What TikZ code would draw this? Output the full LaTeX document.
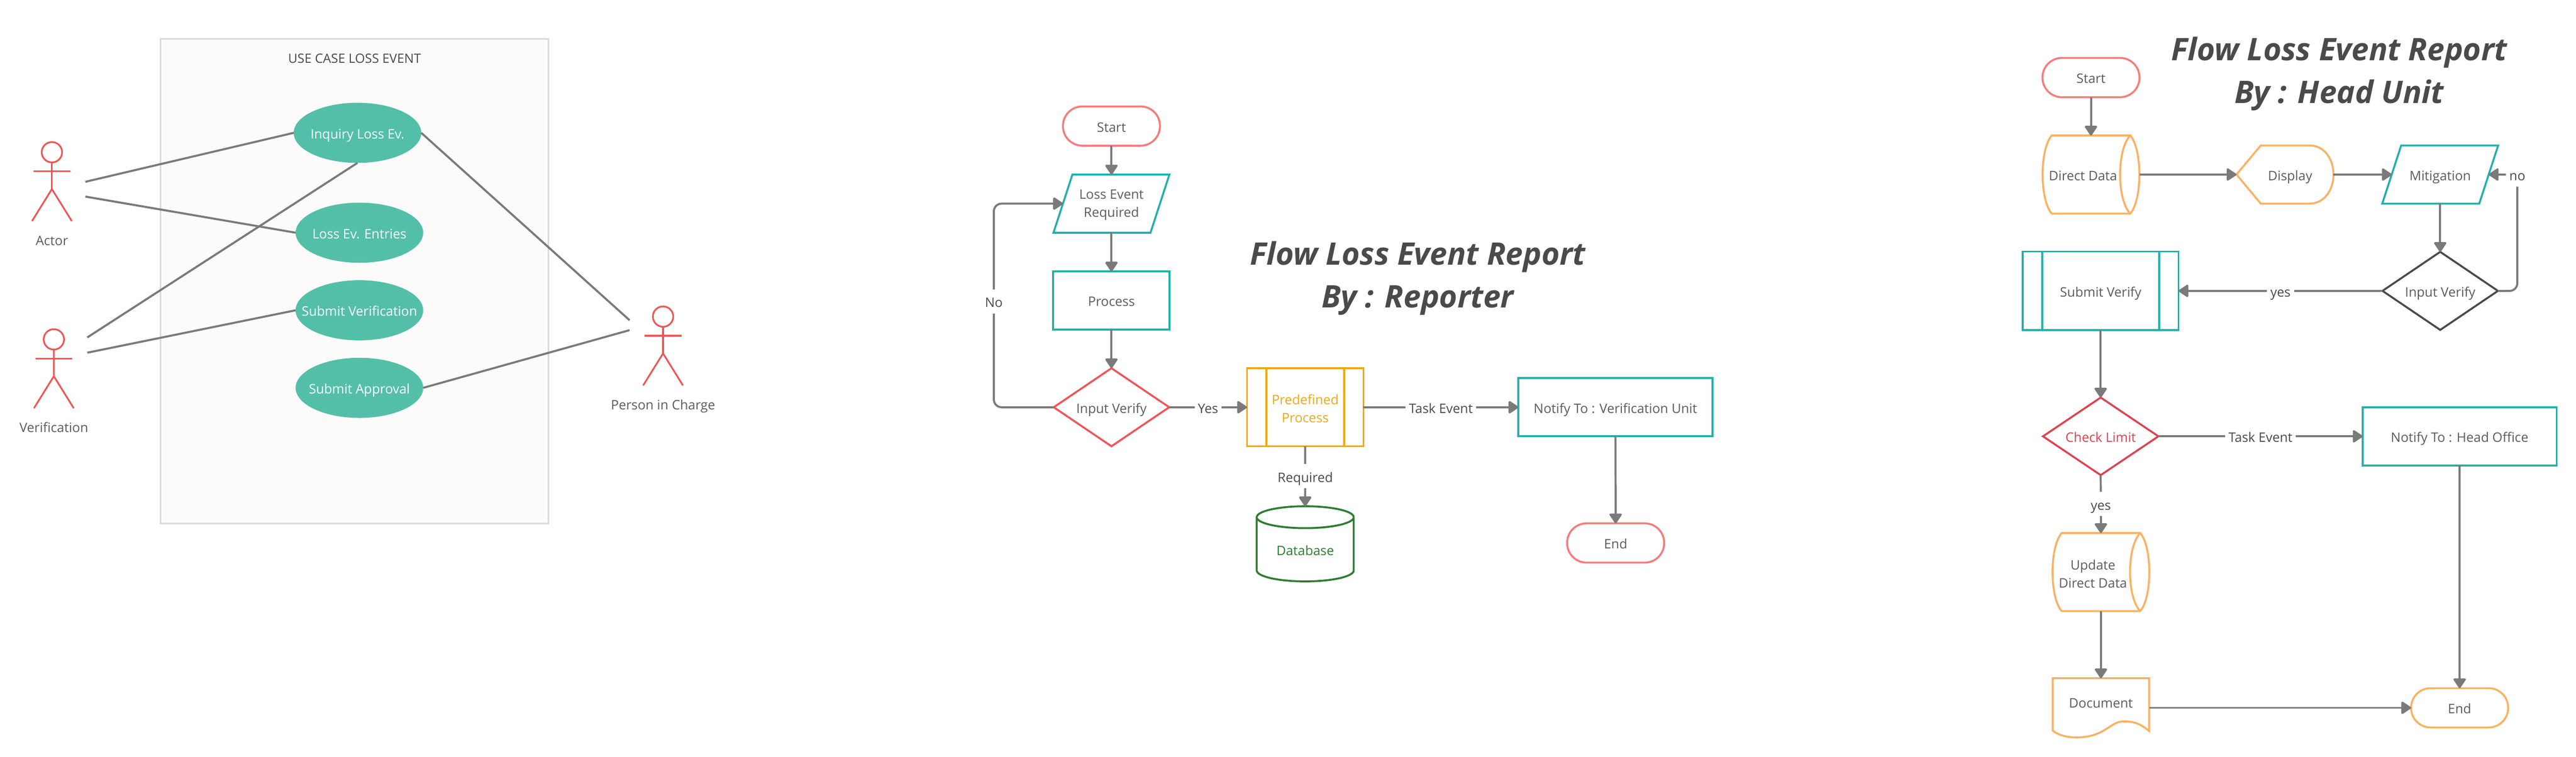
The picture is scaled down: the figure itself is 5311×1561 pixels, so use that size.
\documentclass[tikz,border=0pt]{standalone}
\usepackage{fontspec}
\setmainfont{Open Sans}
\usetikzlibrary{positioning,arrows.meta,shapes.geometric}
\definecolor{boxgrey}{HTML}{D9D9D9}
\definecolor{boxfill}{HTML}{FCFBF9}
\definecolor{usecasefill}{HTML}{53BFA9}
\definecolor{actorred}{HTML}{EF5656}
\definecolor{linegrey}{HTML}{7A7A7A}
\definecolor{textgrey}{HTML}{5C5C5C}
\definecolor{labelgrey}{HTML}{4A4A4A}
\definecolor{salmon}{HTML}{F67C7C}
\definecolor{tealline}{HTML}{26AFA9}
\definecolor{amberline}{HTML}{EDA91C}
\definecolor{softorange}{HTML}{F9B264}
\definecolor{dbgreen}{HTML}{2E7D32}
\definecolor{crimson}{HTML}{DC4453}
\newcommand{\nw}[1]{\makebox[0pt]{#1}}
\tikzset{every node/.style={inner sep=0pt,outer sep=0pt,text=textgrey,font=\fontsize{13.5}{18.5}\selectfont,text height=14.5pt,text depth=2.5pt},
	twoline/.style={align=center,text height=,text depth=},
	shapeline/.style={line width=2pt,fill=white},
	usecase/.style={ellipse,fill=usecasefill,text=white,minimum width=131.5pt,minimum height=62pt},
	actorhead/.style={circle,draw=actorred,line width=1.75pt,minimum size=21pt,text height=0pt,text depth=0pt},
	actorline/.style={draw=actorred,line width=1.75pt},
	assoc/.style={draw=linegrey,line width=2.1pt},
	flow/.style={draw=linegrey,line width=2.1pt,-{Triangle[length=11pt,width=14pt,round]}},
	plainflow/.style={draw=linegrey,line width=2.1pt},
	edgelabel/.style={fill=white,inner xsep=3.5pt,inner ysep=4pt,text=labelgrey},
	terminal/.style={shapeline,rectangle,rounded corners=20pt,minimum width=100pt,minimum height=40.5pt},
	inout/.style={rectangle,minimum width=100pt,minimum height=60pt},
	procbox/.style={shapeline,draw=tealline,rectangle,minimum width=120pt,minimum height=60pt},
	decision/.style={shapeline,diamond,minimum width=119pt,minimum height=80.5pt},
	storebox/.style={rectangle,minimum width=100pt,minimum height=80.5pt},
	title/.style={twoline,font=\fontsize{32}{44}\selectfont\bfseries\itshape,text=labelgrey}}
\newcommand{\drawstore}[1]{%
\draw[shapeline,draw=softorange] ([xshift=9.5pt]#1.north west) -- ([xshift=-9.5pt]#1.north east)
	.. controls ([xshift=3pt,yshift=26pt]#1.east) and ([xshift=3pt,yshift=-26pt]#1.east) .. ([xshift=-9.5pt]#1.south east)
	-- ([xshift=9.5pt]#1.south west)
	.. controls ([xshift=-3pt,yshift=-26pt]#1.west) and ([xshift=-3pt,yshift=26pt]#1.west) .. cycle;
\draw[line width=2pt,draw=softorange] ([xshift=-9.5pt]#1.north east)
	.. controls ([xshift=-23.5pt,yshift=26pt]#1.east) and ([xshift=-23.5pt,yshift=-26pt]#1.east) .. ([xshift=-9.5pt]#1.south east);
}
\newcommand{\drawslant}[1]{%
\draw[line width=2pt,draw=tealline] ([xshift=9.75pt]#1.north west) -- ([xshift=9.75pt]#1.north east)
	-- ([xshift=-9.75pt]#1.south east) -- ([xshift=-9.75pt]#1.south west) -- cycle;
}
\begin{document}
\begin{tikzpicture}[x=0.5pt,y=-0.5pt]
\useasboundingbox (0,0) rectangle (5311,1561);
%
% use case
\draw[draw=boxgrey,fill=boxfill,line width=1.75pt] (331,80) rectangle (1131,1080);
\node[text=labelgrey] (ucTitle) at (731,118) {\fontsize{13.2}{16}\selectfont USE CASE LOSS EVENT};
\node[usecase] (inquiry) at (737,274) {\nw{Inquiry Loss Ev.}};
\node[usecase] (entries) at (741,480) {\nw{Loss Ev. Entries}};
\node[usecase] (submitVerif) at (741,640) {\nw{Submit Verification}};
\node[usecase] (submitAppr) at (741,800) {\nw{Submit Approval}};
%
\foreach \Name/\X/\Y/\Label in {%
	actor/107/314/Actor,
	verification/111/700/Verification,
	person/1367/653/Person in Charge%
    }
{
\node[actorhead] (\Name) at (\X,\Y) {};
\draw[actorline] (\Name.south) -- ++(0,55) coordinate (\Name Hip);
\draw[actorline] ([xshift=-19pt,yshift=-19.75pt]\Name.center) -- ([xshift=19pt,yshift=-19.75pt]\Name.center);
\draw[actorline] ([xshift=-20.5pt,yshift=-71pt]\Name.center) -- (\Name Hip) -- ([xshift=20.5pt,yshift=-71pt]\Name.center);
\node (\Name Label) at ([yshift=-90pt]\Name.center) {\Label};
}
%
\coordinate (actorA) at (176,375);
\coordinate (actorB) at (176,405.5);
\coordinate (verifA) at (180,696);
\coordinate (verifB) at (180,727.5);
\coordinate (personA) at (1298,660.5);
\coordinate (personB) at (1298,681);
%
\foreach \Source/\Target in {%
	actorA/inquiry.west,
	actorB/entries.west,
	verifA/inquiry.south,
	verifB/submitVerif.west,
	inquiry.east/personA,
	submitAppr.east/personB%
    }
\draw[assoc] (\Source) to (\Target);
%
% reporter flow
\node[title] (repTitle) at (2923,574) {Flow Loss Event Report\\By : Reporter};
\node[terminal,draw=salmon] (repStart) at (2291.5,260) {Start};
\node[inout] (repLoss) at (2291.5,420) {};
\drawslant{repLoss}
\node[twoline] (repLossText) at (2291.5,423) {Loss Event\\Required};
\node[procbox] (repProcess) at (2291.5,620) {Process};
\node[decision,draw=actorred] (repVerify) at (2291.5,840) {\nw{Input Verify}};
\node[procbox,draw=amberline,minimum height=80.5pt] (repPre) at (2691,840) {};
\draw[line width=2pt,draw=amberline] ([xshift=20pt]repPre.north west) -- ([xshift=20pt]repPre.south west);
\draw[line width=2pt,draw=amberline] ([xshift=-20pt]repPre.north east) -- ([xshift=-20pt]repPre.south east);
\node[twoline,text=amberline] (repPreText) at (2691,843) {Predefined\\Process};
\node[procbox,minimum width=200pt] (repNotify) at (3330.5,840) {Notify To : Verification Unit};
\node[terminal,draw=salmon] (repEnd) at (3331,1120) {End};
\node[cylinder,shape border rotate=90,aspect=0.38,shapeline,draw=dbgreen,text=dbgreen,minimum width=100pt,minimum height=77.5pt] (repDb) at (2691,1134) {Database};
\node[edgelabel] (repNo) at (2049,622) {No};
%
\draw[plainflow,rounded corners=8pt] (repVerify.west) -| (repNo.south);
\draw[flow,rounded corners=8pt] (repNo.north) |- (repLoss.west);
%
\foreach \Source/\Target in {%
	repStart.south/repLoss.north,
	repLoss.south/repProcess.north,
	repProcess.south/repVerify.north,
	repNotify.south/repEnd.north%
    }
\draw[flow] (\Source) to (\Target);
%
\foreach \Source/\Target/\Label in {%
	repVerify.east/repPre.west/Yes,
	repPre.east/repNotify.west/Task Event,
	repPre.south/repDb.north/Required%
    }
\draw[flow] (\Source) -- node[edgelabel] {\Label} (\Target);
%
% head unit flow
\node[title] (headTitle) at (4823,152.5) {Flow Loss Event Report\\By : Head Unit};
\node[terminal,draw=salmon] (headStart) at (4311,160) {Start};
\node[storebox] (headData) at (4311,360) {};
\drawstore{headData}
\node (headDataText) at (4294.5,360) {Direct Data};
\node (headDisplay) at (4711,360) [minimum width=100pt,minimum height=60pt] {};
\draw[shapeline,draw=softorange] (headDisplay.west) -- ([xshift=25pt]headDisplay.north west) -- ([xshift=-25pt]headDisplay.north east)
	.. controls ([xshift=-8pt]headDisplay.north east) and ([yshift=14pt]headDisplay.east) .. (headDisplay.east)
	.. controls ([yshift=-14pt]headDisplay.east) and ([xshift=-8pt]headDisplay.south east) .. ([xshift=-25pt]headDisplay.south east)
	-- ([xshift=25pt]headDisplay.south west) -- cycle;
\node (headDisplayText) at (4721.5,360) {Display};
\node[inout] (headMitigation) at (5031,360) {Mitigation};
\drawslant{headMitigation}
\node[decision,draw=labelgrey] (headVerify) at (5031,600) {\nw{Input Verify}};
\node[procbox,minimum width=160.5pt,minimum height=81pt] (headSubmit) at (4331,600) {Submit Verify};
\draw[line width=2pt,draw=tealline] ([xshift=20pt]headSubmit.north west) -- ([xshift=20pt]headSubmit.south west);
\draw[line width=2pt,draw=tealline] ([xshift=-20pt]headSubmit.north east) -- ([xshift=-20pt]headSubmit.south east);
\node[decision,draw=crimson,text=crimson,minimum height=80pt] (headCheck) at (4331,900) {\nw{Check Limit}};
\node[procbox,minimum width=200pt] (headNotify) at (5071,900) {Notify To : Head Office};
\node[storebox] (headUpdate) at (4331.5,1180) {};
\drawstore{headUpdate}
\node[twoline] (headUpdateText) at (4315,1184) {Update\\Direct Data};
\node[rectangle,minimum width=99.5pt,minimum height=61pt] (headDoc) at (4331.5,1460) {};
\draw[shapeline,draw=softorange] (headDoc.north west) -- (headDoc.north east) -- (4431,1508)
	.. controls (4410,1490) and (4395,1488) .. (4378,1488)
	.. controls (4350,1488) and (4340,1521) .. (4281,1521)
	.. controls (4262,1521) and (4245,1517) .. (4232,1507) -- cycle;
\node (headDocText) at (4331.5,1448) {Document};
\node[terminal,draw=softorange] (headEnd) at (5071,1460) {End};
\node[edgelabel] (headNo) at (5190,360) {no};
%
\draw[plainflow,rounded corners=8pt] (headVerify.east) -| (headNo.south);
\draw[flow] (headNo.west) -- (headMitigation.east);
%
\foreach \Source/\Target in {%
	headStart.south/headData.north,
	headData.east/headDisplay.west,
	headDisplay.east/headMitigation.west,
	headMitigation.south/headVerify.north,
	headSubmit.south/headCheck.north,
	headUpdate.south/headDoc.north,
	headDoc.east/headEnd.west,
	headNotify.south/headEnd.north%
    }
\draw[flow] (\Source) to (\Target);
%
\foreach \Source/\Target/\Label in {%
	headVerify.west/headSubmit.east/yes,
	headCheck.east/headNotify.west/Task Event,
	headCheck.south/headUpdate.north/yes%
    }
\draw[flow] (\Source) -- node[edgelabel] {\Label} (\Target);
\end{tikzpicture}
\end{document}
